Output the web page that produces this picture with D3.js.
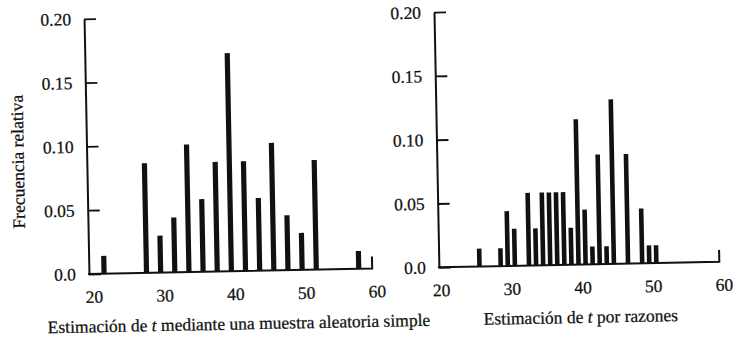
<!DOCTYPE html>
<html lang="es">
<head>
<meta charset="UTF-8">
<title>Frecuencia relativa de las estimaciones de t</title>
<script src="https://d3js.org/d3.v7.min.js"></script>
<style>
  html, body { margin: 0; padding: 0; background: #fff; }
  svg text { font-family: "Liberation Serif", "DejaVu Serif", serif; font-size: 17.5px; fill: #111; stroke: #111; stroke-width: 0.25px; }
  .axis path, .axis line { stroke: #111; }
</style>
</head>
<body>
<svg id="chart" width="736" height="338"></svg>
<script>
const yTicks = [0, 0.05, 0.10, 0.15, 0.20];
const xTicks = [20, 30, 40, 50, 60];

// Estimación de t mediante una muestra aleatoria simple
const srsT    = [21.5, 27.5, 29.5, 31.5, 33.5, 35.5, 37.5, 39.5, 41.5, 43.5, 45.5, 47.5, 49.5, 51.5, 57.5];
const srsFreq = [0.014, 0.086, 0.029, 0.043, 0.100, 0.057, 0.086, 0.171, 0.086, 0.057, 0.100, 0.043, 0.029, 0.086, 0.014];

// Estimación de t por razones
const ratioT    = [25.5, 28.5, 29.5, 30.5, 32.5, 33.5, 34.5, 35.5, 36.5, 37.5, 38.5, 39.5, 40.5, 41.5, 42.5, 43.5, 44.5, 46.5, 48.5, 49.5, 50.5];
const ratioFreq = [0.014, 0.014, 0.043, 0.029, 0.057, 0.029, 0.057, 0.057, 0.057, 0.057, 0.029, 0.114, 0.043, 0.014, 0.086, 0.014, 0.129, 0.086, 0.043, 0.014, 0.014];

const svg = d3.select("#chart");
// the scanned page is slightly tilted
const root = svg.append("g").attr("transform", "rotate(-1.1, 368, 169)");

const y = d3.scaleLinear().domain([0, 0.20]).range([268.6, 13.5]);

const panels = [
  { t: srsT, f: srsFreq, axisX: 87, range: [91.5, 374.5], barW: 5.2,
    title: "mediante una muestra aleatoria simple", titleX: 236 },
  { t: ratioT, f: ratioFreq, axisX: 437, range: [438.7, 721.7], barW: 4.6,
    title: "por razones", titleX: 578 }
];

panels.forEach(p => {
  const x = d3.scaleLinear().domain([20, 60]).range(p.range);
  const g = root.append("g");

  // bars
  g.append("g")
    .selectAll("rect")
    .data(p.t.map((t, i) => ({ t, f: p.f[i] })))
    .join("rect")
      .attr("x", d => x(d.t) - p.barW / 2)
      .attr("width", p.barW)
      .attr("y", d => y(d.f))
      .attr("height", d => y(0) - y(d.f))
      .attr("fill", "#111");

  // y axis, ticks pointing inward
  const ya = g.append("g")
    .attr("class", "axis")
    .attr("transform", `translate(${p.axisX},0)`)
    .call(d3.axisLeft(y).tickValues(yTicks).tickSize(-12).tickSizeOuter(0).tickPadding(13)
      .tickFormat(d => d === 0 ? "0.0" : d3.format(".2f")(d)));
  ya.select(".domain").attr("stroke-width", 2);
  ya.selectAll(".tick line").attr("stroke-width", 1.8);
  ya.selectAll("text").attr("font-size", null).attr("font-family", null);

  // x labels only (no tick marks)
  const xa = g.append("g")
    .attr("class", "axis")
    .attr("transform", `translate(0,${y(0)})`)
    .call(d3.axisBottom(x).tickValues(xTicks).tickSize(0).tickPadding(16.5).tickFormat(d3.format("d")));
  xa.select(".domain").remove();
  xa.selectAll("text").attr("font-size", null).attr("font-family", null);

  // baseline with the small upturn at the right end
  const end = x(59.4);
  g.append("path")
    .attr("d", `M${p.axisX - 1},${y(0)}H${end}V${y(0) - 12}`)
    .attr("fill", "none")
    .attr("stroke", "#111")
    .attr("stroke-width", 2);

  // title under the panel
  const tt = g.append("text")
    .attr("x", p.titleX)
    .attr("y", 327)
    .attr("text-anchor", "middle");
  tt.append("tspan").text("Estimación de ");
  tt.append("tspan").attr("font-style", "italic").text("t");
  tt.append("tspan").text(" " + p.title);
});

root.append("text")
  .attr("transform", "translate(24,155) rotate(-90)")
  .attr("text-anchor", "middle")
  .text("Frecuencia relativa");
</script>
</body>
</html>
